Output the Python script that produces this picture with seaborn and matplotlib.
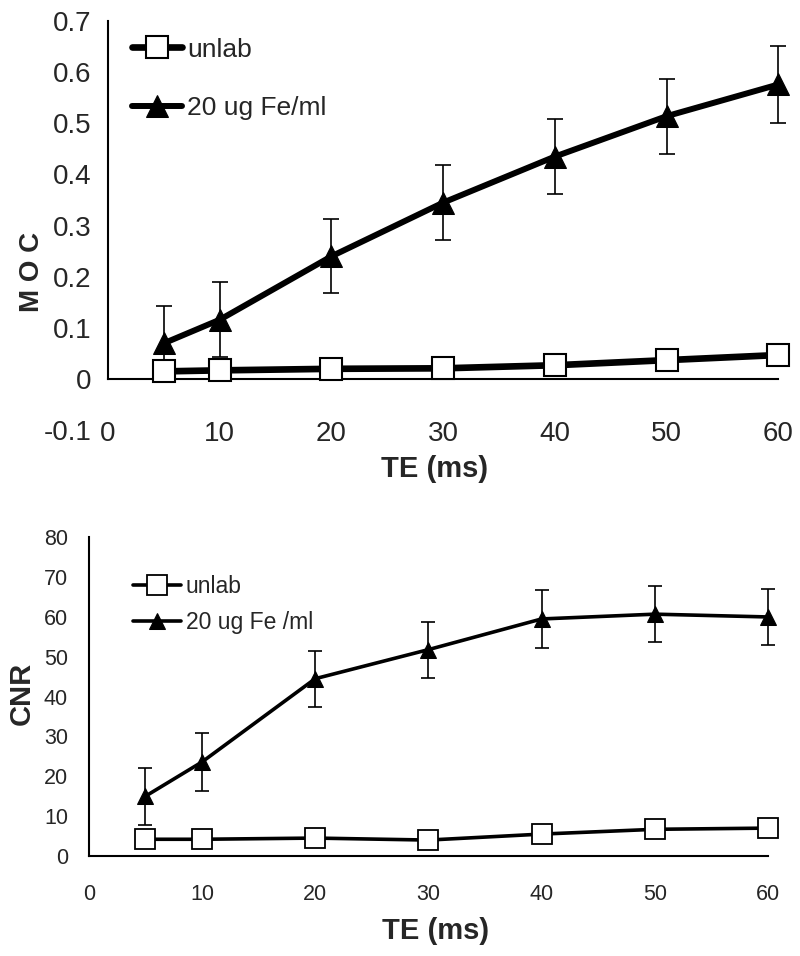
import matplotlib
matplotlib.use("Agg")
import matplotlib.pyplot as plt
import seaborn as sns
import numpy as np
import pandas as pd

# TE values (ms)
te = [5, 10, 20, 30, 40, 50, 60]

# top panel: MOC
moc_unlab = [0.015, 0.017, 0.020, 0.021, 0.027, 0.037, 0.047]
moc_fe = [0.070, 0.116, 0.240, 0.345, 0.435, 0.514, 0.576]
moc_fe_err = [0.073, 0.073, 0.072, 0.074, 0.074, 0.073, 0.075]

# bottom panel: CNR
cnr_unlab = [4.2, 4.2, 4.5, 4.0, 5.5, 6.7, 7.0]
cnr_fe = [15.0, 23.6, 44.5, 51.8, 59.5, 60.7, 60.0]
cnr_fe_err = [7.2, 7.2, 7.0, 7.0, 7.3, 7.0, 7.0]

sns.set_style("white")
narrow = ['Liberation Sans Narrow', 'Liberation Sans', 'DejaVu Sans']
regular = ['Liberation Sans', 'DejaVu Sans']
plt.rcParams['font.family'] = regular

fig = plt.figure(figsize=(8, 9.56), dpi=100)
ax1 = fig.add_axes([0.135, 0.550, 0.838, 0.428])
ax2 = fig.add_axes([0.111, 0.1046, 0.849, 0.3334])

df_top = pd.DataFrame({'TE': te, 'unlab': moc_unlab, 'fe': moc_fe})
df_bot = pd.DataFrame({'TE': te, 'unlab': cnr_unlab, 'fe': cnr_fe})

# ---- top panel ----
ax1.errorbar(te, moc_fe, yerr=moc_fe_err, fmt='none', ecolor='black',
             elinewidth=1.2, capsize=5.5, capthick=1.2, zorder=2,
             clip_on=False)
sns.lineplot(data=df_top, x='TE', y='fe', ax=ax1, color='black', lw=4.3,
             marker='^', markersize=16, markeredgecolor='black',
             label='20 ug Fe/ml', zorder=3, clip_on=False)
sns.lineplot(data=df_top, x='TE', y='unlab', ax=ax1, color='black', lw=4.8,
             marker='s', markersize=16, markerfacecolor='white',
             markeredgecolor='black', markeredgewidth=1.5,
             label='unlab', zorder=4, clip_on=False)

ax1.set_xlim(0, 60)
ax1.set_ylim(-0.1, 0.7)
ax1.set_xticks(range(0, 70, 10))
ax1.set_yticks(np.round(np.arange(-0.1, 0.71, 0.1), 1))
ax1.set_yticklabels(['-0.1', '0', '0.1', '0.2', '0.3', '0.4', '0.5', '0.6', '0.7'])
for s in ['top', 'right']:
    ax1.spines[s].set_visible(False)
ax1.spines['bottom'].set_position(('data', 0))
ax1.spines['left'].set_bounds(0, 0.7)
for s in ['left', 'bottom']:
    ax1.spines[s].set_linewidth(1.5)
    ax1.spines[s].set_color('black')
ax1.tick_params(axis='x', direction='out', length=9, width=1.5, pad=21,
                labelsize=20)
ax1.tick_params(axis='y', direction='out', length=7, width=1.5, pad=5,
                labelsize=20)
ax1.yaxis.get_major_ticks()[0].tick1line.set_visible(False)
for lab in ax1.get_xticklabels() + ax1.get_yticklabels():
    lab.set_family(narrow)
ax1.set_xlabel('TE (ms)', fontsize=21, fontweight='bold')
ax1.xaxis.set_label_coords(0.487, -0.06)
ax1.set_ylabel('M O C', fontsize=20, fontweight='bold')
ax1.yaxis.set_label_coords(-0.094, 0.386)

h, l = ax1.get_legend_handles_labels()
ax1.legend(h[::-1], l[::-1], loc='upper left', frameon=False,
           bbox_to_anchor=(0.02, 0.985), handlelength=1.9,
           labelspacing=1.3, prop={'family': narrow, 'size': 19},
           handletextpad=0.2, borderaxespad=0.0)

# ---- bottom panel ----
ax2.errorbar(te, cnr_fe, yerr=cnr_fe_err, fmt='none', ecolor='black',
             elinewidth=1.2, capsize=4.7, capthick=1.2, zorder=2,
             clip_on=False)
sns.lineplot(data=df_bot, x='TE', y='fe', ax=ax2, color='black', lw=2.6,
             marker='^', markersize=12, markeredgecolor='black',
             label='20 ug Fe /ml', zorder=3, clip_on=False)
sns.lineplot(data=df_bot, x='TE', y='unlab', ax=ax2, color='black', lw=2.6,
             marker='s', markersize=14, markerfacecolor='white',
             markeredgecolor='black', markeredgewidth=1.3,
             label='unlab', zorder=4, clip_on=False)

ax2.set_xlim(0, 60)
ax2.set_ylim(0, 80)
ax2.set_xticks(range(0, 70, 10))
ax2.set_yticks(range(0, 90, 10))
for s in ['top', 'right']:
    ax2.spines[s].set_visible(False)
for s in ['left', 'bottom']:
    ax2.spines[s].set_linewidth(1.5)
    ax2.spines[s].set_color('black')
ax2.tick_params(axis='both', direction='out', length=7, width=1.5,
                labelsize=15.5)
ax2.tick_params(axis='x', pad=13)
ax2.tick_params(axis='y', pad=8)
ax2.set_xlabel('TE (ms)', fontsize=21, fontweight='bold')
ax2.xaxis.set_label_coords(0.51, -0.19)
ax2.set_ylabel('CNR', fontsize=21, fontweight='bold')
ax2.yaxis.set_label_coords(-0.078, 0.51)

h, l = ax2.get_legend_handles_labels()
ax2.legend(h[::-1], l[::-1], loc='upper left', frameon=False,
           bbox_to_anchor=(0.052, 0.91), handlelength=2.1,
           labelspacing=0.55, fontsize=16.5, handletextpad=0.2,
           borderaxespad=0.0)

fig.savefig('out.png', dpi=100, facecolor='white')
